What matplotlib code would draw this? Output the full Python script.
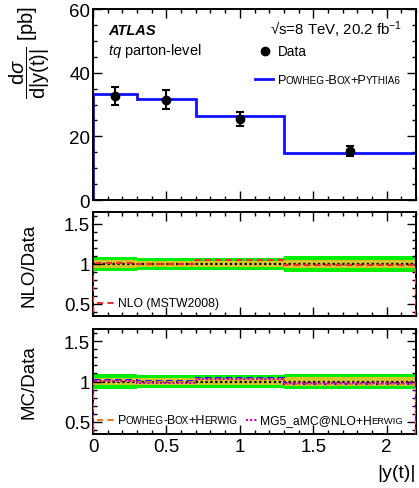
import matplotlib
matplotlib.use('Agg')
import matplotlib.pyplot as plt
import numpy as np
from matplotlib.ticker import MultipleLocator, FormatStrFormatter

plt.rcParams['font.family'] = ['Liberation Sans', 'DejaVu Sans']
plt.rcParams['mathtext.fontset'] = 'custom'
plt.rcParams['mathtext.rm'] = 'Liberation Sans'
plt.rcParams['mathtext.it'] = 'Liberation Sans:italic'
plt.rcParams['mathtext.bf'] = 'Liberation Sans:bold'

# ---------------- data ----------------
bin_edges = [0, 0.3, 0.7, 1.3, 2.2]
data_x = [0.15, 0.5, 1.0, 1.75]
data_y = [32.7, 31.5, 25.4, 15.4]
data_err = [2.9, 3.0, 2.2, 1.6]
powheg_pythia6 = [33.4, 31.8, 26.4, 14.9]

# ratio panels
band_total = [0.09, 0.08, 0.075, 0.095]
band_stat = [0.045, 0.04, 0.04, 0.05]
ratio_reference = [1.0, 0.995, 0.995, 1.0]
nlo_mstw_ratio = [1.01, 1.0, 1.045, 0.99]
pythia6_ratio = [1.02, 1.005, 1.04, 0.97]
powheg_herwig_ratio = [1.01, 0.99, 1.03, 0.975]
mg5_herwig_ratio = [1.01, 0.985, 1.03, 0.98]

x_ticks = [0, 0.5, 1, 1.5, 2]

# ---------------- figure ----------------
W, H = 419, 489
fig = plt.figure(figsize=(W / 100, H / 100), dpi=100)

def axes_px(x0, y0, x1, y1):
    return fig.add_axes([x0 / W, 1 - y1 / H, (x1 - x0) / W, (y1 - y0) / H])

ax1 = axes_px(93, 10, 416, 201)
ax2 = axes_px(93, 213, 416, 317)
ax3 = axes_px(93, 330, 416, 435)

edges = np.array(bin_edges)

for ax in (ax1, ax2, ax3):
    ax.set_xlim(0, 2.2)
    ax.xaxis.set_major_locator(MultipleLocator(0.5))
    ax.xaxis.set_minor_locator(MultipleLocator(0.1))
    ax.tick_params(which='both', direction='in', top=True, right=True,
                   labelsize=13.5, width=1.0)
    ax.tick_params(which='major', length=6.5)
    ax.tick_params(which='minor', length=3.2)
    ax.tick_params(axis='y', pad=2)
    ax.tick_params(axis='x', pad=3)
    for sp in ax.spines.values():
        sp.set_linewidth(1.4)
    ax.xaxis.set_major_formatter(FormatStrFormatter('%g'))
    ax.yaxis.set_major_formatter(FormatStrFormatter('%g'))

# top panel
ax1.set_ylim(0, 60)
ax1.yaxis.set_major_locator(MultipleLocator(20))
ax1.yaxis.set_minor_locator(MultipleLocator(5))
ax1.tick_params(axis='x', labelbottom=False)
ax1.stairs(powheg_pythia6, edges, baseline=0, color='#1010ff', lw=2.0, zorder=2)
ax1.errorbar(data_x, data_y, yerr=data_err, fmt='o', color='black', ms=6,
             capsize=3, elinewidth=1.5, capthick=1.5, zorder=3)
fig.text(30 / W, 1 - 6 / H,
         r'$\dfrac{\mathrm{d}\sigma}{\mathrm{d}|\mathrm{y(t)}|}$ [pb]',
         fontsize=14.5, rotation=90, ha='center', va='top')

ax1.text(0.046, 0.869, 'ATLAS', transform=ax1.transAxes, fontsize=10.5,
         fontweight='bold', fontstyle='italic', va='baseline')
ax1.text(0.046, 0.764, r'$tq$ parton-level', transform=ax1.transAxes,
         fontsize=10.5, va='baseline')
ax1.text(0.957, 0.869, '\u221as=8 TeV, 20.2 fb$^{-1}$', transform=ax1.transAxes,
         fontsize=10.8, va='baseline', ha='right')
ax1.plot([0.533], [0.78], 'o', color='black', ms=6, transform=ax1.transAxes)
ax1.text(0.573, 0.78, 'Data', transform=ax1.transAxes, fontsize=9.8, va='center')
ax1.plot([0.5, 0.557], [0.634, 0.634], color='#1010ff', lw=2.0, transform=ax1.transAxes)


def smallcaps(ax, x, y, pieces, size, small=0.78, color='black'):
    s0, big0 = pieces[0]
    prev = ax.text(x, y, s0, transform=ax.transAxes, fontsize=size if big0 else size * small,
                   va='baseline', ha='left', color=color)
    for s, big in pieces[1:]:
        prev = ax.annotate(s, xy=(1, y), xycoords=(prev, 'axes fraction'),
                           xytext=(-0.6, 0), textcoords='offset pixels',
                           fontsize=size if big else size * small,
                           va='baseline', ha='left', color=color)
    return prev


smallcaps(ax1, 0.573, 0.613,
          [('P', 1), ('OWHEG', 0), ('-B', 1), ('OX', 0), ('+P', 1), ('YTHIA6', 0)], 9.2)


def ratio_panel(ax):
    ax.set_ylim(0.35, 1.65)
    ax.yaxis.set_major_locator(MultipleLocator(0.5))
    ax.yaxis.set_minor_locator(MultipleLocator(0.1))
    lo = 1 - np.array(band_total)
    hi = 1 + np.array(band_total)
    ax.stairs(hi, edges, baseline=lo, fill=True, color='#00ee00', lw=0, zorder=1)
    lo = 1 - np.array(band_stat)
    hi = 1 + np.array(band_stat)
    ax.stairs(hi, edges, baseline=lo, fill=True, color='#d4c62a', lw=0, zorder=1.5)


ratio_panel(ax2)
ax2.tick_params(axis='x', labelbottom=False)
ax2.stairs(ratio_reference, edges, baseline=None, color='black', lw=1.6,
           linestyle=(0, (1, 1.2)), zorder=3)
ax2.stairs(nlo_mstw_ratio, edges, baseline=0, color='#e83030', lw=1.5,
           linestyle=(0, (3, 2)), zorder=4)
ax2.set_ylabel('NLO/Data', fontsize=13.5)
ax2.yaxis.set_label_coords(-0.173, 0.5)
ax2.plot([0.012, 0.068], [0.125, 0.125], color='#e83030', lw=1.5,
         linestyle=(0, (3, 2)), transform=ax2.transAxes)
ax2.text(0.077, 0.125, 'NLO (MSTW2008)', transform=ax2.transAxes, fontsize=8.7, va='center')

ratio_panel(ax3)
ax3.stairs(ratio_reference, edges, baseline=None, color='black', lw=1.6,
           linestyle=(0, (1, 1.2)), zorder=3)
ax3.stairs(pythia6_ratio, edges, baseline=0, color='#1010ff', lw=1.5,
           linestyle=(0, (3, 2)), zorder=4)
ax3.stairs(powheg_herwig_ratio, edges, baseline=0, color='#e08020', lw=1.5,
           linestyle=(0, (3, 2)), zorder=5)
ax3.stairs(mg5_herwig_ratio, edges, baseline=0, color='#c000c0', lw=1.5,
           linestyle=(0, (1, 1)), zorder=6)
ax3.set_ylabel('MC/Data', fontsize=13.5)
ax3.yaxis.set_label_coords(-0.173, 0.5)
ax3.set_xticks(x_ticks)
ax3.set_xlabel('|y(t)|', fontsize=14, loc='right')
ax3.xaxis.set_label_coords(1.0, -0.29)

ax3.plot([0.012, 0.068], [0.133, 0.133], color='#e08020', lw=1.5,
         linestyle=(0, (3, 2)), transform=ax3.transAxes)
smallcaps(ax3, 0.077, 0.10,
          [('P', 1), ('OWHEG', 0), ('-B', 1), ('OX', 0), ('+H', 1), ('ERWIG', 0)], 9.0)
ax3.plot([0.474, 0.511], [0.133, 0.133], color='#c000c0', lw=1.5,
         linestyle=(0, (1, 1)), transform=ax3.transAxes)
smallcaps(ax3, 0.517, 0.10, [('MG5_aMC@NLO+H', 1), ('ERWIG', 0)], 8.7)

fig.savefig('out.png', dpi=100)
